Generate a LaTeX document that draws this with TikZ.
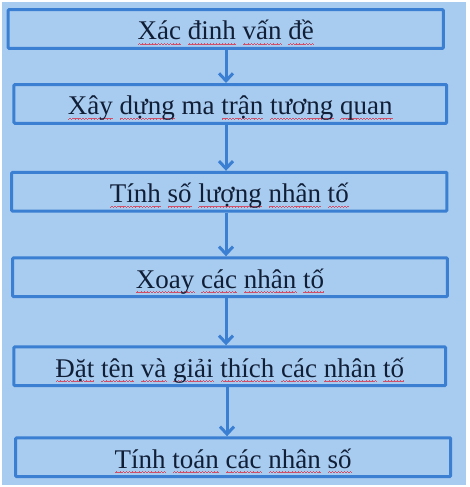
\documentclass[tikz,border=0pt]{standalone}
\usepackage{fontspec}
\setmainfont{Liberation Serif}
\usetikzlibrary{arrows.meta}
\definecolor{bg}{HTML}{A8CBF0}
\definecolor{bd}{HTML}{3A7FD2}
\definecolor{tx}{HTML}{101E36}
\definecolor{wv}{HTML}{D0506A}
\newcommand\wvunit{\hbox{\rule[-4.9pt]{.75pt}{.75pt}\rule[-4.3pt]{.75pt}{.75pt}\rule[-3.7pt]{.75pt}{.75pt}\rule[-4.3pt]{.75pt}{.75pt}}}
\newcommand\rw[1]{\setbox0\hbox{#1}\rlap{\color{wv}\hbox to\wd0{\xleaders\wvunit\hfil}}\box0\relax}
\begin{document}
\begin{tikzpicture}[x=1pt,y=-1pt,
  stepbox/.style={draw=bd, line width=3pt, fill=bg, minimum width=#1,
    minimum height=38.8pt, inner sep=0pt, text height=24pt, text depth=2pt,
    font=\fontsize{27}{30}\selectfont, text=tx, rounded corners=1pt},
  flow/.style={draw=bd, line width=3pt, -{Straight Barb[length=7.5pt,width=14pt]}}]
\fill[white] (0,0) rectangle (469,487);
\fill[bg] (1.5,2) rectangle (465.5,485);
\useasboundingbox (0,0) rectangle (469,487);
\coordinate (ax) at (226,0);
\coordinate (ax2) at (227,0);
\node[stepbox=435.3] (b1) at (225.7,29) {\rw{Xác} \rw{đinh} \rw{vấn} \rw{đề}};
\node[stepbox=432.7] (b2) at (230.3,103.9) {\rw{Xây} \rw{dựng} ma \rw{trận} \rw{tương} \rw{quan}};
\node[stepbox=435.3] (b3) at (229.3,191.7) {\rw{Tính} \rw{số} \rw{lượng} \rw{nhân} \rw{tố}};
\node[stepbox=434.7] (b4) at (230,277.2) {\rw{Xoay} \rw{các} \rw{nhân} \rw{tố}};
\node[stepbox=431.7] (b5) at (229.8,366.2) {\rw{Đặt} \rw{tên} \rw{và} \rw{giải} \rw{thích} \rw{các} \rw{nhân} \rw{tố}};
\node[stepbox=435] (b6) at (233.2,457.2) {\rw{Tính} \rw{toán} \rw{các} \rw{nhân} \rw{số}};
\draw[flow] (b1.south -| ax) -- (b2.north -| ax);
\draw[flow] (b2.south -| ax) -- (b3.north -| ax);
\draw[flow] (b3.south -| ax) -- (b4.north -| ax);
\draw[flow] (b4.south -| ax) -- (b5.north -| ax);
\draw[flow] (b5.south -| ax2) -- (b6.north -| ax2);
\end{tikzpicture}
\end{document}
